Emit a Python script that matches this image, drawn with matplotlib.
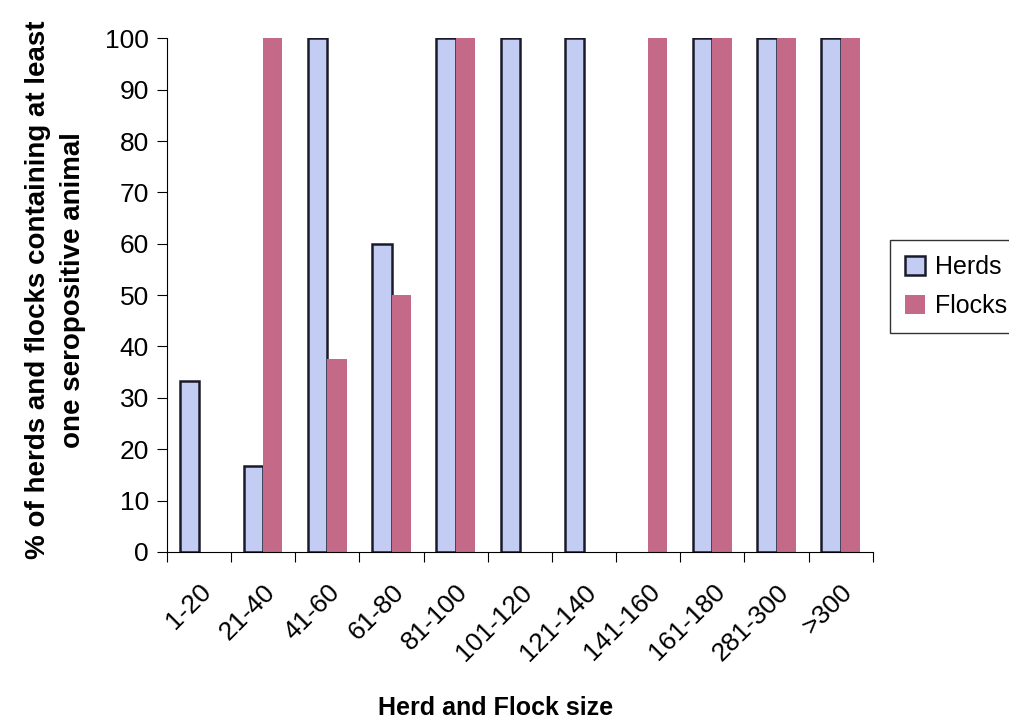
import matplotlib.pyplot as plt
import numpy as np

plt.rcParams['font.family'] = ['Liberation Sans', 'DejaVu Sans']

# categories and values
sizes = ["1-20", "21-40", "41-60", "61-80", "81-100", "101-120", "121-140",
         "141-160", "161-180", "281-300", ">300"]
herds = [33.3, 16.7, 100, 60, 100, 100, 100, 0, 100, 100, 100]
flocks = [0, 100, 37.5, 50, 100, 0, 0, 100, 100, 100, 100]

fig = plt.figure(figsize=(10.09, 7.22), dpi=100)
ax = fig.add_axes([0.1655, 0.2355, 0.6995, 0.7115])

x = np.arange(len(sizes))
w = 0.3
h = np.array(herds, dtype=float)
f = np.array(flocks, dtype=float)
hm = h > 0
fm = f > 0
ax.bar(x[hm] - w / 2, h[hm], w, color="#c3cdf3", edgecolor="#1a1a2a", linewidth=1.8, label="Herds")
ax.bar(x[fm] + w / 2, f[fm], w, color="#c46a88", edgecolor="none", label="Flocks")

ax.set_xlim(-0.5, len(sizes) - 0.5)
ax.set_ylim(0, 100)
ax.set_yticks(range(0, 101, 10))
ax.set_xticks(np.arange(len(sizes) + 1) - 0.5)
ax.set_xticklabels([])
ax.set_xticks(x, minor=True)
ax.set_xticklabels(sizes, minor=True, rotation=45, ha="right", rotation_mode="anchor", fontsize=19)
ax.tick_params(axis="x", which="minor", length=0, pad=20)
ax.tick_params(axis="x", which="major", length=7, direction="out")
ax.tick_params(axis="y", length=7, labelsize=19, pad=6)

for s in ["top", "right"]:
    ax.spines[s].set_visible(False)

ax.set_ylabel("% of herds and flocks containing at least\none seropositive animal",
              fontsize=20, fontweight="bold", linespacing=1.45, va="bottom")
ax.yaxis.set_label_coords(-0.115, 0.51)
ax.set_xlabel("Herd and Flock size", fontsize=18, fontweight="bold", va="center")
ax.xaxis.set_label_coords(0.466, -0.303)

leg = ax.legend(loc="upper left", bbox_to_anchor=(1.025, 0.607), fontsize=18,
                frameon=True, fancybox=False, edgecolor="black",
                handlelength=0.8, handleheight=0.8, handletextpad=0.4,
                labelspacing=0.6, borderpad=0.6, borderaxespad=0)

fig.savefig("out.png", dpi=100)
